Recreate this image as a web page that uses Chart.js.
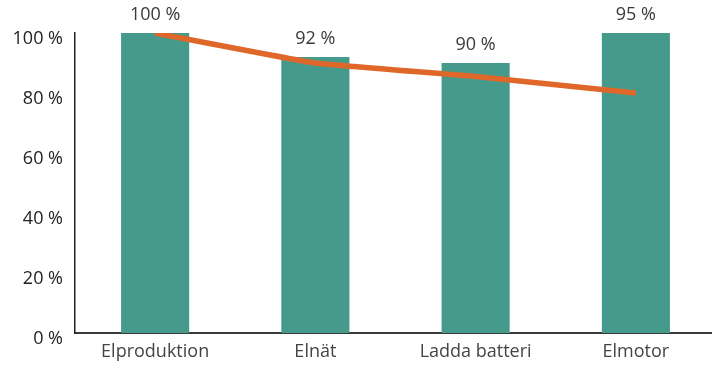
<!DOCTYPE html>
<html lang="sv">
<head>
    <meta charset="UTF-8">
    <title>Verkningsgrad</title>
    <style>
        html, body { margin: 0; padding: 0; background: #fff; overflow: hidden; }
        .wrap { width: 716px; height: 365px; }
    </style>
    <script src="https://cdn.jsdelivr.net/npm/chart.js"></script>
</head>
<body>
    <div class="wrap"><canvas id="chart"></canvas></div>

    <script>
        // data
        const categories = ['Elproduktion', 'Elnät', 'Ladda batteri', 'Elmotor'];
        const barValues = [100, 92, 90, 100];
        const barLabels = ['100 %', '92 %', '90 %', '95 %'];
        const lineValues = [100, 90, 85.5, 80];
        const yTicks = [0, 20, 40, 60, 80, 100];

        const font = "'Open Sans', sans-serif";

        // draws the value labels above each bar
        const barLabelPlugin = {
            id: 'barLabels',
            afterDatasetsDraw(chart) {
                const ctx = chart.ctx;
                const meta = chart.getDatasetMeta(1);
                ctx.save();
                ctx.font = '18px ' + font;
                ctx.fillStyle = '#3a3a3a';
                ctx.textAlign = 'center';
                ctx.textBaseline = 'alphabetic';
                meta.data.forEach((bar, i) => {
                    ctx.fillText(barLabels[i], bar.x, bar.y - 13);
                });
                ctx.restore();
            }
        };

        new Chart(document.getElementById('chart'), {
            data: {
                labels: categories,
                datasets: [
                    {
                        type: 'line',
                        data: lineValues,
                        borderColor: '#E0672A',
                        borderWidth: 5.5,
                        pointRadius: 0,
                        tension: 0.1,
                        order: 0
                    },
                    {
                        type: 'bar',
                        data: barValues,
                        backgroundColor: '#459A8C',
                        barPercentage: 0.85,
                        categoryPercentage: 0.5,
                        order: 1
                    }
                ]
            },
            options: {
                responsive: true,
                maintainAspectRatio: false,
                animation: false,
                layout: { padding: { top: 33, right: 0, left: 0, bottom: 0 } },
                plugins: {
                    legend: { display: false },
                    tooltip: { enabled: false }
                },
                scales: {
                    x: {
                        grid: { display: false, drawTicks: false },
                        border: { color: '#3a3a3a', width: 2 },
                        ticks: { color: '#444', font: { family: font, size: 18 }, padding: 8 },
                        afterFit(scale) { scale.height = 32; }
                    },
                    y: {
                        min: 0,
                        max: 100,
                        grid: { display: false, drawTicks: false },
                        border: { color: '#222', width: 1.5 },
                        afterBuildTicks(scale) { scale.ticks = yTicks.map(v => ({ value: v })); },
                        ticks: {
                            color: '#222',
                            font: { family: font, size: 18 },
                            padding: 12,
                            labelOffset: 6,
                            callback: v => v + ' %'
                        },
                        afterFit(scale) { scale.width = 75; }
                    }
                }
            },
            plugins: [barLabelPlugin]
        });
    </script>
</body>
</html>
